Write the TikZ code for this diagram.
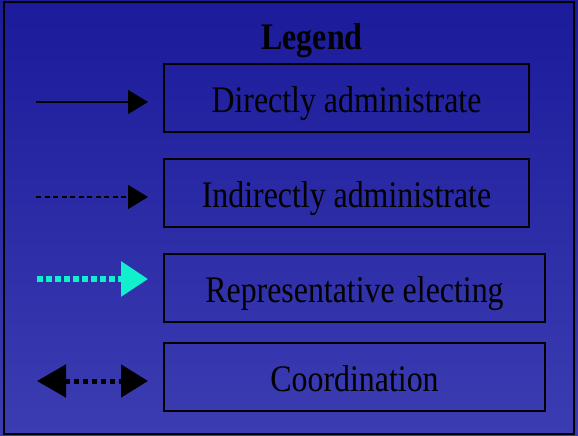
\documentclass[tikz,border=0pt]{standalone}
\usepackage{fontspec}
\usetikzlibrary{arrows.meta}
\newfontfamily\tnr[FakeStretch=0.85]{Liberation Serif}
\definecolor{bgtop}{RGB}{27,27,155}
\definecolor{bgbot}{RGB}{60,60,178}
\definecolor{elect}{RGB}{16,240,204}
\tikzset{
  legbox/.style={draw=black, line width=1.6pt, minimum height=68pt, inner sep=0pt,
    text height=29.5pt, text depth=0pt, font=\tnr\fontsize{37.5pt}{40pt}\selectfont, text=black},
  smallhead/.style={-{Triangle[length=20pt,width=24pt]}},
}
\begin{document}
\begin{tikzpicture}[x=1pt,y=-1pt]
\useasboundingbox (0,0) rectangle (578,436);
\shade[top color=bgtop, bottom color=bgbot] (0,0) rectangle (578,436);
\draw[line width=2pt] (4,2) rectangle (574,434);
\node[font=\tnr\bfseries\fontsize{37.5pt}{40pt}\selectfont, anchor=base] (title) at (312,49) {Legend};
\node[legbox, minimum width=365pt] (b1) at (346.5,98) {Directly administrate};
\node[legbox, minimum width=365pt] (b2) at (346.5,193) {Indirectly administrate};
\node[legbox, minimum width=381pt] (b3) at (354.5,288) {Representative electing};
\node[legbox, minimum width=381pt] (b4) at (354.5,377) {Coordination};
\coordinate (a1s) at (36,102); \coordinate (a1e) at (148,102);
\coordinate (a2s) at (36,197); \coordinate (a2e) at (148,197);
\coordinate (a3s) at (37,279); \coordinate (a3e) at (148,279);
\coordinate (a4s) at (37,381); \coordinate (a4e) at (148,381);
\draw[line width=1.3pt, smallhead] (a1s) -- (a1e);
\draw[line width=1.3pt, dash pattern=on 5pt off 3.5pt, smallhead] (a2s) -- (a2e);
\draw[line width=6pt, color=elect, dash pattern=on 6pt off 3pt,
  -{Triangle[length=27pt,width=34pt]}] (a3s) -- (a3e);
\draw[line width=5pt, dash pattern=on 5.5pt off 3.5pt,
  {Triangle[length=29pt,width=32pt]}-{Triangle[length=27pt,width=32pt]}] (a4s) -- (a4e);
\end{tikzpicture}
\end{document}
